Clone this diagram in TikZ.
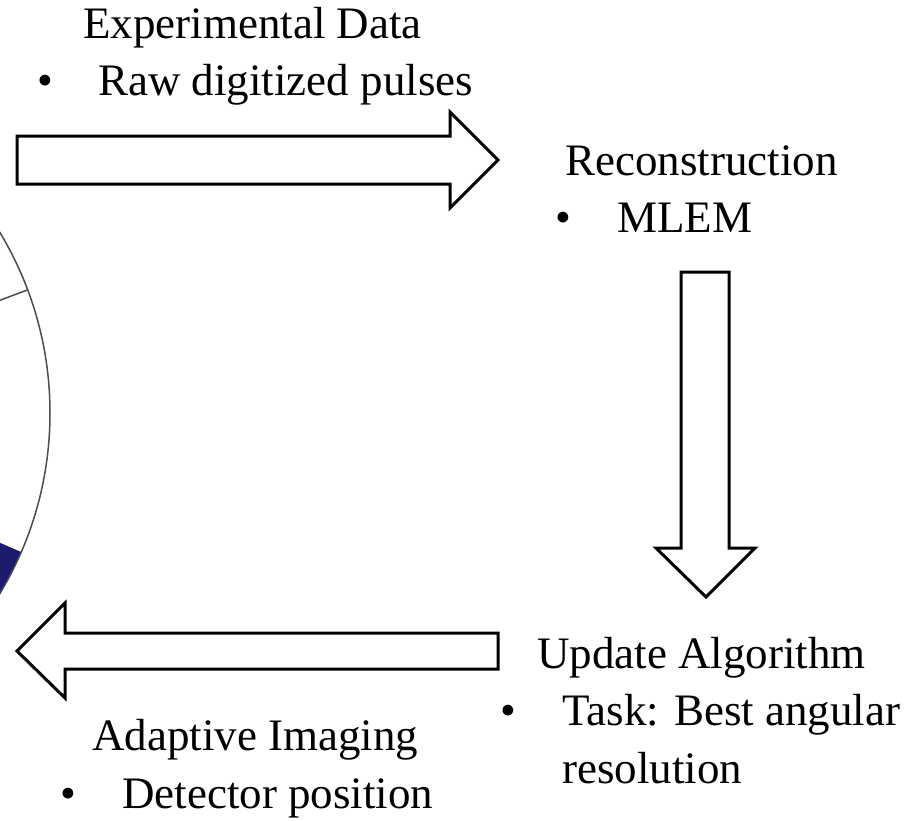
\documentclass[tikz,border=0pt]{standalone}
\usepackage{fontspec}
\setmainfont{Liberation Serif}
\usepackage{tikz}
\definecolor{detblue}{RGB}{27,27,110}
\tikzset{
	txt/.style={anchor=base west, inner sep=0pt, font=\fontsize{45}{54}\selectfont}, % headings and item texts
	bul/.style={anchor=base, inner sep=0pt, font=\fontsize{45}{54}\selectfont}, % the bullets
	blockarrow/.style={draw=black, line width=3pt, fill=white, line join=miter}, % outlined fat arrows
	ring/.style={draw=black!70, line width=1.5pt}, % detector ring at the left edge
}

\begin{document}
\begin{tikzpicture}[x=1pt, y=-1pt]
	\useasboundingbox (0,0) rectangle (905,820);
	% detector ring, only partly in view
	\begin{scope}
		\clip (0,0) rectangle (905,820);
		\coordinate (c) at (-300,413);
		\begin{scope}
			\clip (c) circle[radius=350pt];
			\fill[detblue] (c) -- +(23.4:500) -- +(70:500) -- cycle;
		\end{scope}
		\draw[ring] (c) circle[radius=350pt];
		\draw[ring] (c) ++(-20.6:300) -- ++(-20.6:50);
	\end{scope}
	% fat arrows
	\draw[blockarrow] (17,136) -- (450,136) -- (450,112) -- (498,160) -- (450,208) -- (450,184) -- (17,184) -- cycle;
	\draw[blockarrow] (681,272) -- (729,272) -- (729,548) -- (755,548) -- (706,597) -- (656,548) -- (681,548) -- cycle;
	\draw[blockarrow] (498,633) -- (65,633) -- (65,603) -- (17,651) -- (65,698) -- (65,669) -- (498,669) -- cycle;
	% texts
	\node[txt] (exp) at (83,38) {Experimental Data};
	\node[bul] (b1) at (45,95) {\textbullet};
	\node[txt] (raw) at (98,95) {Raw digitized pulses};
	\node[txt] (rec) at (565,175) {Reconstruction};
	\node[bul] (b2) at (563,232) {\textbullet};
	\node[txt] (mlem) at (617,232) {MLEM};
	\node[txt] (upd) at (537,668) {Update Algorithm};
	\node[bul] (b3) at (508,725) {\textbullet};
	\node[txt] (task) at (562,725) {Task: Best angular};
	\node[txt] (res) at (562,783) {resolution};
	\node[txt] (ada) at (92,750) {Adaptive Imaging};
	\node[bul] (b4) at (68,808) {\textbullet};
	\node[txt] (det) at (122,808) {Detector position};
\end{tikzpicture}
\end{document}
